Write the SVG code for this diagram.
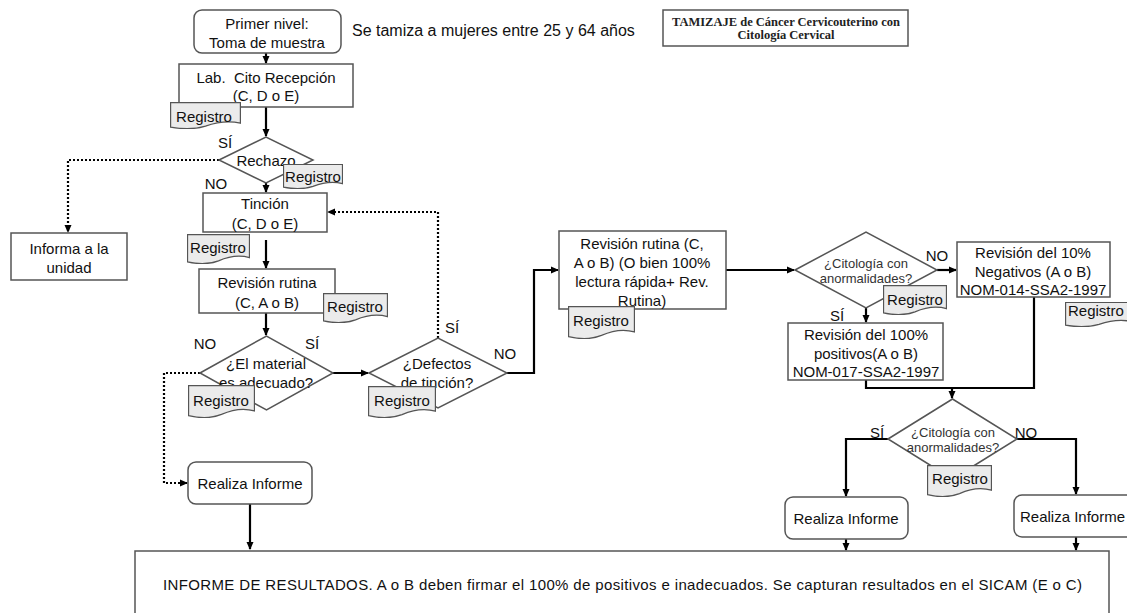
<svg xmlns="http://www.w3.org/2000/svg" width="1127" height="613" viewBox="0 0 1127 613">
<style>
.bg{fill:#fff}
.box{fill:#fff;stroke:#555;stroke-width:1.5}
.t{font-family:"Liberation Sans",Arial,sans-serif;font-size:15px;fill:#111;text-anchor:middle;dominant-baseline:central}
.ts{font-family:"Liberation Sans",Arial,sans-serif;font-size:13px;fill:#333;text-anchor:middle;dominant-baseline:central}
.serif{font-family:"Liberation Serif","Times New Roman",serif;font-size:12.5px;font-weight:bold;fill:#222;text-anchor:middle;dominant-baseline:central}
.lbl{font-family:"Liberation Sans",Arial,sans-serif;font-size:15px;fill:#111;text-anchor:middle;dominant-baseline:central}
.c{fill:none;stroke:#000;stroke-width:2.2}
.d{fill:none;stroke:#000;stroke-width:2.2;stroke-dasharray:2 2}
</style>
<defs>
<marker id="ah" markerWidth="8" markerHeight="8" refX="7" refY="4" orient="auto" markerUnits="userSpaceOnUse">
<path d="M0,0.5 L8,4 L0,7.5 Z" fill="#000"/>
</marker>
<symbol id="doc" viewBox="0 0 64 28" preserveAspectRatio="none">
<path d="M0.5,0.5 H63.5 V22 C52,19 42,21 32,25 C22,28.5 10,28 0.5,26 Z" fill="#ebebeb" stroke="#555" stroke-width="1.3" vector-effect="non-scaling-stroke"/>
</symbol>
</defs>
<rect class="bg" x="0" y="0" width="1127" height="613"/>

<g id="connectors">
<path class="c" d="M266,53 V63" marker-end="url(#ah)"/>
<path class="c" d="M266,107 V136" marker-end="url(#ah)"/>
<path class="d" d="M219,160 H68 V232" marker-end="url(#ah)"/>
<path class="c" d="M266,183 V192" marker-end="url(#ah)"/>
<path class="c" d="M266,240 V268" marker-end="url(#ah)"/>
<path class="c" d="M266,313 V335" marker-end="url(#ah)"/>
<path class="c" d="M333,373 H368" marker-end="url(#ah)"/>
<path class="d" d="M200,373 H164 V483 H187" marker-end="url(#ah)"/>
<path class="c" d="M250,504 V549" marker-end="url(#ah)"/>
<path class="d" d="M438,338 V212 H328" marker-end="url(#ah)"/>
<path class="c" d="M507,373 H534 V270 H558" marker-end="url(#ah)"/>
<path class="c" d="M726,270 H794" marker-end="url(#ah)"/>
<path class="c" d="M937,270 H956" marker-end="url(#ah)"/>
<path class="c" d="M866,308 V322" marker-end="url(#ah)"/>
<path class="c" d="M866,380 V388 H1034 V297"/>
<path class="c" d="M952,388 V398" marker-end="url(#ah)"/>
<path class="c" d="M888,439 H846 V496" marker-end="url(#ah)"/>
<path class="c" d="M1017,439 H1076 V494" marker-end="url(#ah)"/>
<path class="c" d="M846,539 V550" marker-end="url(#ah)"/>
<path class="c" d="M1076,537 V550" marker-end="url(#ah)"/>
</g>

<g id="labels">
<text class="lbl" x="225" y="142">SÍ</text>
<text class="lbl" x="216" y="183">NO</text>
<text class="lbl" x="205" y="343">NO</text>
<text class="lbl" x="312" y="343">SÍ</text>
<text class="lbl" x="452" y="327">SÍ</text>
<text class="lbl" x="505" y="353">NO</text>
<text class="lbl" x="937" y="255">NO</text>
<text class="lbl" x="837" y="315">SÍ</text>
<text class="lbl" x="877" y="432">SÍ</text>
<text class="lbl" x="1026" y="432">NO</text>
</g>

<g id="title">
<rect class="box" x="663" y="10" width="245" height="36"/>
<text class="serif" x="786" y="22">TAMIZAJE de Cáncer Cervicouterino con</text>
<text class="serif" x="786" y="35">Citología Cervical</text>
</g>

<g id="nota">
<text class="t" x="352" y="30" style="text-anchor:start;font-size:16px">Se tamiza a mujeres entre 25 y 64 años</text>
</g>

<g id="primer-nivel">
<rect class="box" x="194" y="10" width="147" height="43" rx="8"/>
<text class="t" x="267" y="23">Primer nivel:</text>
<text class="t" x="267" y="42">Toma de muestra</text>
</g>

<g id="lab-recepcion">
<rect class="box" x="179" y="64" width="174" height="43"/>
<text class="t" x="266" y="77" xml:space="preserve">Lab.  Cito Recepción</text>
<text class="t" x="266" y="95">(C, D o E)</text>
<use href="#doc" x="170" y="102" width="71" height="27"/>
<text class="t" x="204" y="116">Registro</text>
</g>

<g id="rechazo">
<path class="box" d="M219,160 L266,137 L313,160 L266,183 Z"/>
<text class="t" x="266" y="160">Rechazo</text>
<use href="#doc" x="283" y="164" width="60" height="25"/>
<text class="t" x="313" y="176">Registro</text>
</g>

<g id="informa-unidad">
<rect class="box" x="11" y="233" width="116" height="47"/>
<text class="t" x="69" y="248">Informa a la</text>
<text class="t" x="69" y="267">unidad</text>
</g>

<g id="tincion">
<rect class="box" x="203" y="193" width="124" height="39"/>
<text class="t" x="265" y="203">Tinción</text>
<text class="t" x="265" y="223">(C, D o E)</text>
<use href="#doc" x="187" y="234" width="63" height="30"/>
<text class="t" x="218" y="247">Registro</text>
</g>

<g id="revision-rutina-1">
<rect class="box" x="199" y="269" width="136" height="44"/>
<text class="t" x="267" y="282">Revisión rutina</text>
<text class="t" x="267" y="302">(C, A o B)</text>
<use href="#doc" x="323" y="293" width="65" height="30"/>
<text class="t" x="355" y="306">Registro</text>
</g>

<g id="material-adecuado">
<path class="box" d="M200,373 L266.5,336 L333,373 L266.5,410 Z"/>
<text class="t" x="266" y="363">¿El material</text>
<text class="t" x="266" y="382">es adecuado?</text>
<use href="#doc" x="188" y="385" width="67" height="33"/>
<text class="t" x="221" y="400">Registro</text>
</g>

<g id="defectos-tincion">
<path class="box" d="M369,373 L438,338 L507,373 L438,408 Z"/>
<text class="t" x="437" y="363">¿Defectos</text>
<text class="t" x="437" y="382">de tinción?</text>
<use href="#doc" x="368" y="386" width="68" height="32"/>
<text class="t" x="402" y="400">Registro</text>
</g>

<g id="realiza-informe-1">
<rect class="box" x="188" y="462" width="124" height="42" rx="8"/>
<text class="t" x="250" y="483">Realiza Informe</text>
</g>

<g id="revision-rutina-2">
<rect class="box" x="559" y="231" width="167" height="78"/>
<text class="t" x="642" y="243">Revisión rutina (C,</text>
<text class="t" x="642" y="262">A o B) (O bien 100%</text>
<text class="t" x="642" y="281">lectura rápida+ Rev.</text>
<text class="t" x="642" y="300">Rutina)</text>
<use href="#doc" x="568" y="306" width="67" height="33"/>
<text class="t" x="601" y="320">Registro</text>
</g>

<g id="citologia-1">
<path class="box" d="M795,270 L866,232 L937,270 L866,308 Z"/>
<text class="ts" x="866" y="263">¿Citología con</text>
<text class="ts" x="866" y="278">anormalidades?</text>
<use href="#doc" x="883" y="285" width="64" height="30"/>
<text class="t" x="915" y="299">Registro</text>
</g>

<g id="revision-10">
<rect class="box" x="957" y="242" width="153" height="55"/>
<text class="t" x="1033" y="252">Revisión del 10%</text>
<text class="t" x="1033" y="271">Negativos (A o B)</text>
<text class="t" x="1033" y="289">NOM-014-SSA2-1997</text>
<use href="#doc" x="1065" y="302" width="68" height="25"/>
<text class="t" x="1068" y="310" style="text-anchor:start">Registro</text>
</g>

<g id="revision-100">
<rect class="box" x="788" y="323" width="155" height="57"/>
<text class="t" x="866" y="334">Revisión del 100%</text>
<text class="t" x="866" y="353">positivos(A o B)</text>
<text class="t" x="866" y="371">NOM-017-SSA2-1997</text>
</g>

<g id="citologia-2">
<path class="box" d="M888,439 L952.5,399 L1017,439 L952.5,479 Z"/>
<text class="ts" x="953" y="432">¿Citología con</text>
<text class="ts" x="953" y="447">anormalidades?</text>
<use href="#doc" x="927" y="465" width="65" height="32"/>
<text class="t" x="960" y="478">Registro</text>
</g>

<g id="realiza-informe-2">
<rect class="box" x="785" y="497" width="123" height="42" rx="8"/>
<text class="t" x="846" y="518">Realiza Informe</text>
</g>

<g id="realiza-informe-3">
<rect class="box" x="1014" y="495" width="126" height="42" rx="8"/>
<text class="t" x="1020" y="516" style="text-anchor:start">Realiza Informe</text>
</g>

<g id="informe-resultados">
<rect class="box" x="135" y="551" width="974" height="80"/>
<text class="t" x="163" y="584" style="text-anchor:start" textLength="919" lengthAdjust="spacing">INFORME DE RESULTADOS. A o B deben firmar el 100% de positivos e inadecuados. Se capturan resultados en el SICAM (E o C)</text>
</g>
</svg>
